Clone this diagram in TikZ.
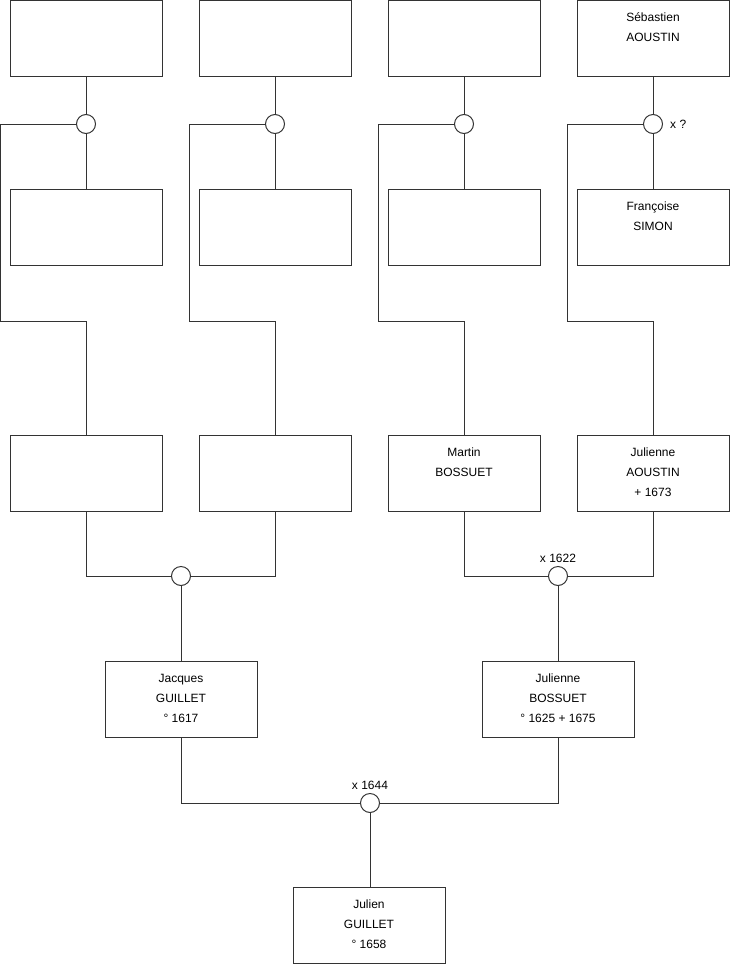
\documentclass[tikz,border=0pt]{standalone}
\usepackage{fontspec}
\setmainfont{Liberation Sans}
\usetikzlibrary{positioning}
\newcommand{\who}[1]{\parbox[t][70pt][t]{146pt}{\centering\rule{0pt}{18pt}#1}}

\begin{document}
\begin{tikzpicture}[x=1pt, y=-1pt,
person/.style={draw=black!80, line width=1pt, minimum width=152pt, minimum height=76pt, inner sep=3pt, font=\fontsize{12}{20}\selectfont},
union/.style={draw=black!80, line width=1pt, circle, minimum size=19pt, inner sep=0pt},
link/.style={draw=black!80, line width=1pt},
date/.style={font=\fontsize{12}{14}\selectfont, inner sep=1pt}
]
\useasboundingbox (0,0) rectangle (740,975);

% great-grandparents
\node[person] (p8) at (86,38.5) {};
\node[person] (p9) at (86,227) {};
\node[person] (p10) at (275,38.5) {};
\node[person] (p11) at (275,227) {};
\node[person] (p12) at (464,38.5) {};
\node[person] (p13) at (464,227) {};
\node[person] (p14) at (653,38.5) {\who{Sébastien\\AOUSTIN}};
\node[person] (p15) at (653,227) {\who{Françoise\\SIMON}};
\node[union] (m4) at (86,124) {};
\node[union] (m5) at (275,124) {};
\node[union] (m6) at (464,124) {};
\node[union] (m7) at (653,124) {};
\node[date, right=6pt of m7] (d7) {x ?};

% grandparents
\node[person] (p4) at (86,473) {};
\node[person] (p5) at (275,473) {};
\node[person] (p6) at (464,473) {\who{Martin\\BOSSUET}};
\node[person] (p7) at (653,473) {\who{Julienne\\AOUSTIN\\+ 1673}};
\node[union] (m2) at (181,576) {};
\node[union] (m3) at (558,576) {};
\node[date, above=2pt of m3] (d3) {x 1622};

% parents
\node[person] (p2) at (181,699) {\who{Jacques\\GUILLET\\° 1617}};
\node[person] (p3) at (558,699) {\who{Julienne\\BOSSUET\\° 1625 + 1675}};
\node[union] (m1) at (370,803) {};
\node[date, above=2pt of m1] (d1) {x 1644};

\node[person] (p1) at (369,925) {\who{Julien\\GUILLET\\° 1658}};

% couples and children
\draw[link] (p8) -- (m4) -- (p9);
\draw[link] (p10) -- (m5) -- (p11);
\draw[link] (p12) -- (m6) -- (p13);
\draw[link] (p14) -- (m7) -- (p15);
\draw[link] (m4.west) -| ++(-75.5,197) -| (p4.north);
\draw[link] (m5.west) -| ++(-75.5,197) -| (p5.north);
\draw[link] (m6.west) -| ++(-75.5,197) -| (p6.north);
\draw[link] (m7.west) -| ++(-75.5,197) -| (p7.north);
\draw[link] (p4.south) |- (m2.west);
\draw[link] (p5.south) |- (m2.east);
\draw[link] (p6.south) |- (m3.west);
\draw[link] (p7.south) |- (m3.east);
\draw[link] (m2) -- (p2);
\draw[link] (m3) -- (p3);
\draw[link] (p2.south) |- (m1.west);
\draw[link] (p3.south) |- (m1.east);
\draw[link] (m1) -- (m1 |- p1.north);
\end{tikzpicture}
\end{document}
